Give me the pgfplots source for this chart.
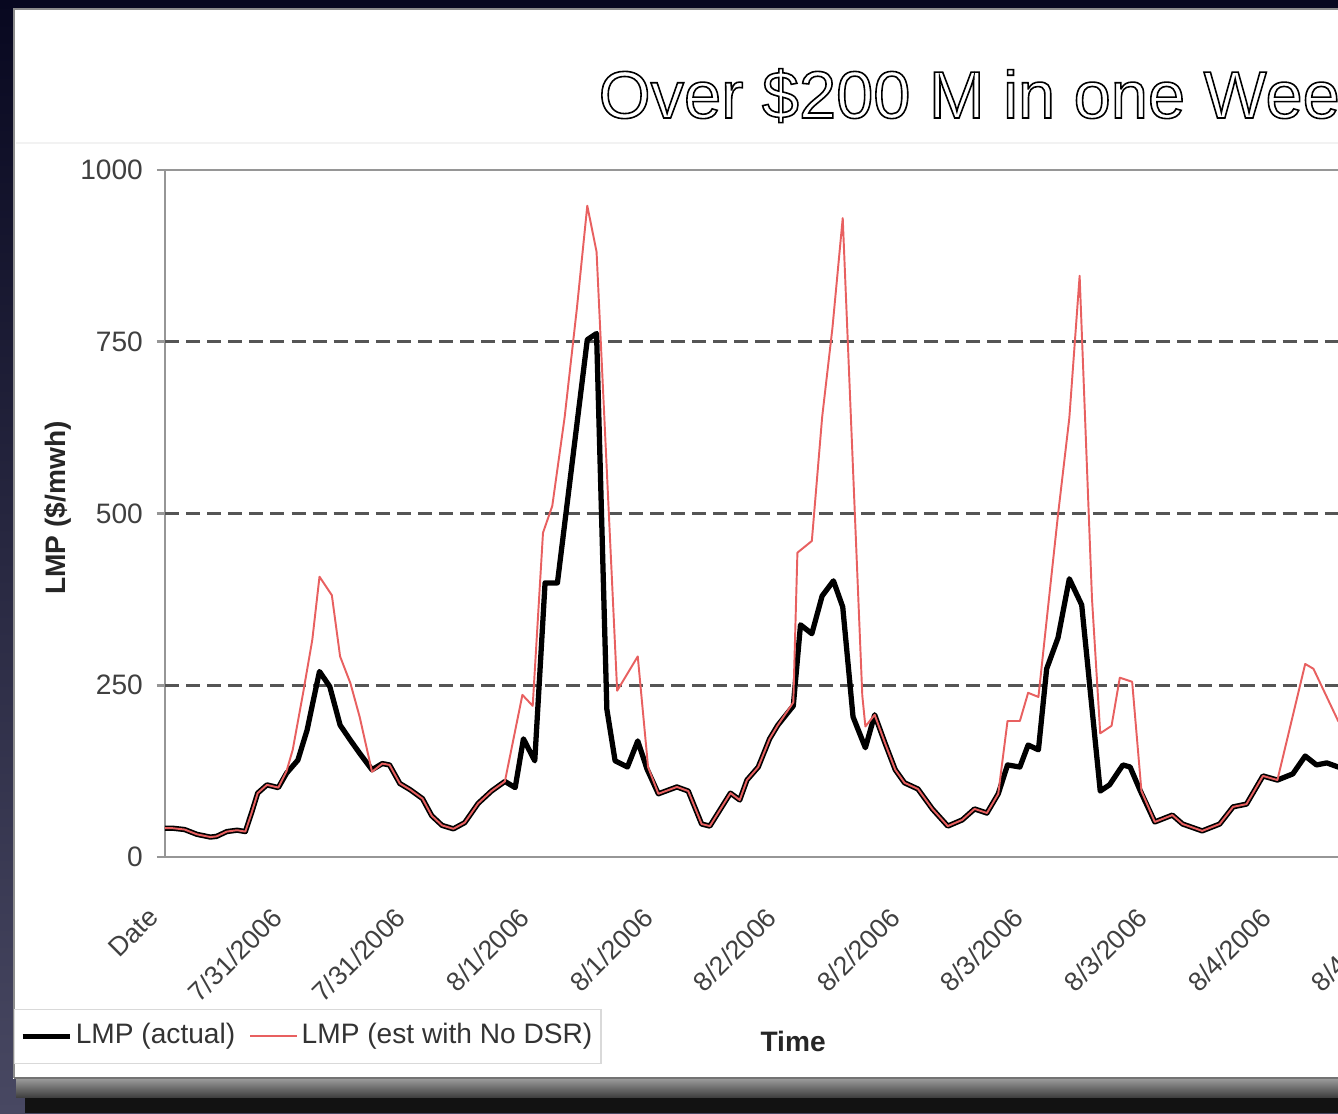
\documentclass[border=0pt]{standalone}
\usepackage{fontspec}
\setmainfont{Liberation Sans}
\usepackage{pgfplots}
\pgfplotsset{compat=1.18}

\definecolor{estred}{RGB}{232,96,96}
\definecolor{gridgray}{RGB}{85,85,85}
\definecolor{axgray}{RGB}{150,150,150}
\definecolor{slidetop}{RGB}{8,8,32}
\definecolor{slidebot}{RGB}{72,72,98}

\begin{document}
\begin{tikzpicture}
\useasboundingbox (0,0) rectangle (13.38,11.13);
\clip (0,0) rectangle (13.38,11.13);
% slide behind the pasted chart
\shade[top color=slidetop, bottom color=slidebot] (0,0) rectangle (13.38,11.13);
\fill[black!93] (0.25,0) rectangle (13.38,0.30);
\shade[top color=black!40, bottom color=black!75] (0.16,0.16) rectangle (13.38,0.34);
\fill[white] (0.13,0.34) rectangle (13.6,11.05);
\draw[black!45, line width=0.8pt] (0.14,0.35) -- (0.14,11.04) -- (13.6,11.04);
\draw[black!55, line width=0.8pt] (0.14,0.35) -- (13.6,0.35);
\draw[black!5, line width=0.6pt] (0.16,9.70) -- (13.6,9.70);

% title (outlined letters)
\node[anchor=base west, inner sep=0pt, font=\fontsize{19}{23}\selectfont]
  at (5.98,9.95) {\special{pdf:literal direct 1 Tr 0.45 w}Over \$200 M in one Week\special{pdf:literal direct 0 Tr}};

\begin{axis}[
  at={(1.65cm,2.56cm)}, anchor=south west,
  scale only axis, width=13.596cm, height=6.87cm,
  xmin=0, xmax=132, ymin=0, ymax=1000,
  axis line style={axgray, line width=0.8pt},
  xtick={0,12,...,132},
  xticklabels={Date,7/31/2006,7/31/2006,8/1/2006,8/1/2006,8/2/2006,8/2/2006,8/3/2006,8/3/2006,8/4/2006,8/4/2006,8/5/2006},
  xtick style={draw=none},
  ytick={0,250,500,750,1000},
  ytick pos=left,
  tick align=outside,
  major tick length=0.08cm,
  ytick style={axgray, line width=0.8pt},
  extra y ticks={250,500,750},
  extra y tick labels={},
  extra y tick style={grid=major},
  y grid style={gridgray, line width=0.8pt, dash pattern=on 4pt off 2pt},
  tick label style={font=\fontsize{8}{9.6}\selectfont, text=black!75},
  /pgf/number format/assume math mode=true,
  /pgf/number format/1000 sep={},
  yticklabel style={xshift=-0.5pt},
  xticklabel style={rotate=45, anchor=north east, yshift=-1pt, xshift=-8.4pt, font=\fontsize{7.6}{9}\selectfont},
  ylabel={LMP (\$/mwh)},
  xlabel={Time},
  every axis y label/.style={at={(axis description cs:-0.079,0.508)}, rotate=90, anchor=center, font=\bfseries\fontsize{8}{9.6}\selectfont, text=black!85},
  every axis x label/.style={at={(axis description cs:0.462,-0.269)}, anchor=center, font=\bfseries\fontsize{8}{9.6}\selectfont, text=black!85},
  legend style={at={(axis description cs:-0.111,-0.221)}, anchor=north west, draw=black!15, fill=white,
    font=\fontsize{8}{9.6}\selectfont, text=black!80, inner xsep=1.5pt, inner ysep=2pt,
    nodes={inner xsep=1pt, inner ysep=2pt},
    /tikz/every even column/.append style={column sep=3pt}},
  legend columns=2,
  legend cell align=left,
  legend image code/.code={\draw[#1] (0cm,0cm) -- (0.47cm,0cm);},
]
% LMP (actual)
\addplot[black, line width=1.5pt, line join=round] coordinates {
(0.0,42) (0.7,42) (1.9,40) (3.1,33) (4.4,29) (5.0,30) (6.0,37) (7.0,39) (7.8,37)
(8.4,64) (9.0,93) (9.9,105) (11.0,101) (11.8,122) (12.9,141) (13.8,185) (14.4,228)
(15.0,270) (16.0,248) (17.0,192) (18.0,170) (18.9,151) (20.1,127) (21.1,136) (21.8,134)
(22.8,107) (23.8,98) (25.0,85) (25.9,60) (26.9,46) (28.0,41) (29.1,50) (30.4,78)
(31.7,96) (33.0,110) (34.0,101) (34.8,172) (35.9,140) (36.9,399) (38.1,399) (41.0,753)
(41.9,762) (42.9,215) (43.7,140) (44.9,131) (45.9,169) (46.8,128) (47.9,92) (49.7,102)
(50.8,96) (52.1,48) (52.9,45) (54.9,93) (55.8,83) (56.5,112) (57.6,131) (58.7,172)
(59.5,192) (61.0,220) (61.7,338) (62.8,325) (63.8,380) (64.9,402) (65.8,364) (66.8,204)
(68.0,159) (68.9,207) (69.9,166) (70.9,127) (71.8,108) (73.1,99) (74.5,70) (76.0,45)
(77.4,54) (78.6,70) (79.8,64) (80.9,92) (81.8,134) (83.0,131) (83.8,163) (84.8,156)
(85.6,274) (86.7,319) (87.8,405) (89.0,367) (90.8,96) (91.7,105) (93.0,134) (93.7,131)
(94.7,96) (96.1,51) (97.8,61) (98.8,48) (100.7,38) (102.4,48) (103.7,73) (105.0,77)
(106.6,118) (108.0,112) (109.5,121) (110.7,147) (111.8,134) (112.8,137) (113.9,131) (116.0,128)
};
\addlegendentry{LMP (actual)}
% LMP (est with No DSR)
\addplot[estred, line width=0.55pt, line join=round] coordinates {
(0.0,42) (0.7,42) (1.9,40) (3.1,33) (4.4,29) (5.0,30) (6.0,37) (7.0,39) (7.8,37)
(8.4,64) (9.0,93) (9.9,105) (11.0,101) (11.8,125) (12.4,156) (13.4,238) (14.3,316)
(15.0,408) (16.2,381) (17.0,292) (18.0,253) (18.9,204) (20.1,124) (21.1,136) (21.8,134)
(22.8,107) (23.8,98) (25.0,85) (25.9,60) (26.9,46) (28.0,41) (29.1,50) (30.4,78)
(31.7,96) (33.0,110) (34.7,236) (35.7,220) (36.7,472) (37.6,511) (38.8,640) (40.0,800)
(41.0,948) (41.9,881) (43.9,242) (45.9,292) (46.9,131) (47.9,92) (49.7,102)
(50.8,96) (52.1,48) (52.9,45) (54.9,93) (55.8,83) (56.5,112) (57.6,131) (58.7,172)
(59.5,192) (61.0,225) (61.4,443) (62.8,460) (63.8,640) (64.8,770) (65.8,930) (67.7,235)
(68.0,190) (68.9,207) (69.9,166) (70.9,127) (71.8,108) (73.1,99) (74.5,70) (76.0,45)
(77.4,54) (78.6,70) (79.8,64) (80.9,92) (81.8,198) (83.0,198) (83.8,239) (84.8,233)
(85.6,345) (86.7,498) (87.8,639) (88.8,846) (90.0,376) (90.8,180) (91.9,191) (92.7,261)
(93.9,255) (94.8,96) (96.1,51) (97.8,61) (98.8,48) (100.7,38) (102.4,48) (103.7,73) (105.0,77)
(106.6,118) (108.0,112) (110.7,281) (111.5,274) (113.9,198) (116.0,160)
};
\addlegendentry{LMP (est with No DSR)}
\end{axis}
\end{tikzpicture}
\end{document}
